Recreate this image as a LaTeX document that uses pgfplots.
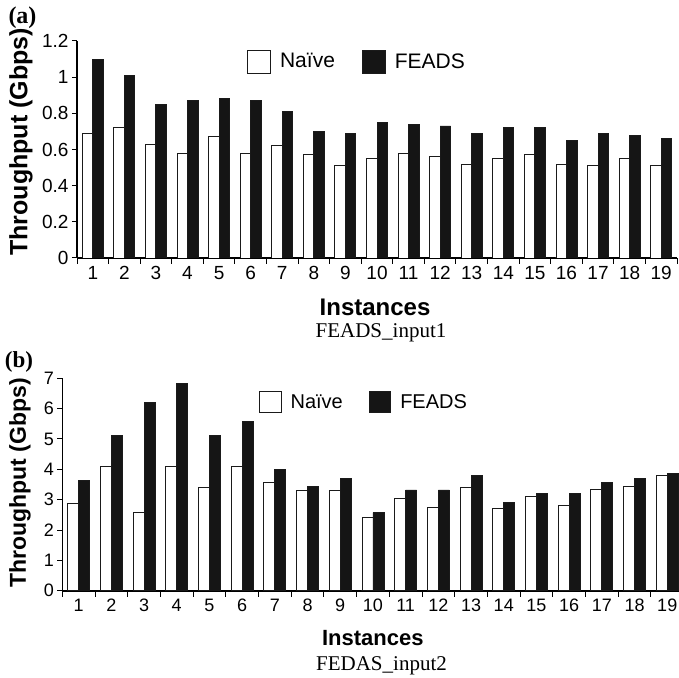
\documentclass[border=0pt]{standalone}
\usepackage{fontspec}
\setmainfont{Liberation Sans}
\newfontfamily\serifx{Liberation Serif}
\usepackage{pgfplots}
\pgfplotsset{compat=1.18}
\definecolor{barblack}{HTML}{151515}
\definecolor{edge}{HTML}{1A1A1A}

\pgfplotstableread{
x naive feads
1 0.69 1.10
2 0.72 1.01
3 0.63 0.85
4 0.58 0.87
5 0.67 0.88
6 0.58 0.87
7 0.62 0.81
8 0.57 0.70
9 0.51 0.69
10 0.55 0.75
11 0.58 0.74
12 0.56 0.73
13 0.52 0.69
14 0.55 0.72
15 0.57 0.72
16 0.52 0.65
17 0.51 0.69
18 0.55 0.68
19 0.51 0.66
}\dataA

\pgfplotstableread{
x naive feads
1 2.88 3.63
2 4.11 5.13
3 2.57 6.20
4 4.11 6.84
5 3.41 5.13
6 4.11 5.59
7 3.57 3.99
8 3.29 3.45
9 3.29 3.70
10 2.43 2.57
11 3.05 3.32
12 2.74 3.32
13 3.41 3.80
14 2.70 2.90
15 3.12 3.20
16 2.82 3.20
17 3.35 3.56
18 3.42 3.69
19 3.81 3.86
}\dataB

\pgfplotsset{
  common/.style={
    scale only axis,
    ybar=0pt,
    axis lines*=left,
    xmin=0.5, xmax=19.5, ymin=0,
    enlarge x limits=false,
    xtick={1,...,19},
    minor xtick={0.5,1.5,...,19.5},
    major x tick style={draw=none},
    tick align=outside,
    major tick length=5pt,
    minor tick length=6pt,
    every tick/.style={black, line width=1pt},
    axis line style={line width=1.6pt, black},
    /pgf/number format/assume math mode=true,
    legend columns=2,
  },
  naivebar/.style={fill=white, draw=edge, line width=0.9pt},
  feadsbar/.style={fill=barblack, draw=edge, line width=0.9pt},
  sqlegA/.style={legend image code/.code={\draw[##1] (0pt,-11.5pt) rectangle (23pt,11.5pt);}},
  sqlegB/.style={legend image code/.code={\draw[##1] (0pt,-10.75pt) rectangle (21.5pt,10.75pt);}},
}

\begin{document}
\begin{tikzpicture}
\useasboundingbox (0pt,0pt) rectangle (679pt,677pt);

% ---------- (a) ----------
\begin{axis}[common,
  at={(77pt,419pt)}, anchor=south west,
  width=600pt, height=217pt,
  ymax=1.2,
  ytick={0,0.2,0.4,0.6,0.8,1,1.2},
  bar width=10.5pt,
  tick label style={font=\fontsize{19}{21}\selectfont},
  xlabel={Instances},
  xlabel style={at={(axis description cs:0.4967,-0.228)}, anchor=center, font=\fontsize{24}{26}\selectfont\bfseries},
  ylabel={Throughput (Gbps)},
  ylabel style={at={(axis description cs:-0.0933,0.535)}, anchor=center, font=\fontsize{25}{27}\selectfont\bfseries},
  legend style={draw=none, fill=none, at={(0.2833,0.9055)}, anchor=west, inner sep=0pt,
    font=\fontsize{21}{23}\selectfont,
    /tikz/every odd column/.append style={column sep=7pt},
    /tikz/every even column/.append style={column sep=25pt}},
]
\addplot[naivebar, sqlegA] table[x=x, y=naive] {\dataA};
\addplot[feadsbar, sqlegA] table[x=x, y=feads] {\dataA};
\legend{Naïve, FEADS}
\end{axis}

% ---------- (b) ----------
\begin{axis}[common,
  at={(62.3pt,86.3pt)}, anchor=south west,
  width=621.3pt, height=212.4pt,
  ymax=7,
  ytick={0,1,2,3,4,5,6,7},
  bar width=11pt,
  tick label style={font=\fontsize{18}{20}\selectfont},
  xlabel={Instances},
  xlabel style={at={(axis description cs:0.4998,-0.221)}, anchor=center, font=\fontsize{22}{24}\selectfont\bfseries},
  ylabel={Throughput (Gbps)},
  ylabel style={at={(axis description cs:-0.068,0.507)}, anchor=center, font=\fontsize{23}{25}\selectfont\bfseries},
  legend style={draw=none, fill=none, at={(0.3166,0.888)}, anchor=west, inner sep=0pt,
    font=\fontsize{20}{22}\selectfont,
    /tikz/every odd column/.append style={column sep=7pt},
    /tikz/every even column/.append style={column sep=24pt}},
]
\addplot[naivebar, sqlegB] table[x=x, y=naive] {\dataB};
\addplot[feadsbar, sqlegB] table[x=x, y=feads] {\dataB};
\legend{Naïve, FEADS}
\end{axis}

% captions and panel letters
\node[anchor=center, font=\fontsize{24}{26}\selectfont\bfseries\serifx] at (22.5pt,659.5pt) {(a)};
\node[anchor=base, font=\fontsize{21}{23}\selectfont\serifx, inner sep=0pt] at (381pt,339.5pt) {FEADS\_input1};
\node[anchor=center, font=\fontsize{23}{25}\selectfont\bfseries\serifx] at (19pt,315pt) {(b)};
\node[anchor=base, font=\fontsize{21}{23}\selectfont\serifx, inner sep=0pt] at (381.5pt,7pt) {FEDAS\_input2};
\end{tikzpicture}
\end{document}
